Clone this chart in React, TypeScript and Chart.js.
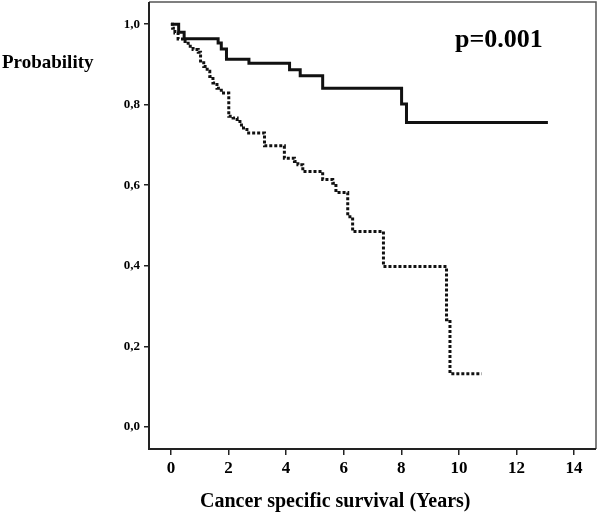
import React, { useEffect, useRef } from "react";
import { Chart, registerables } from "chart.js";

Chart.register(...registerables);

// Group A (solid line): event times (years) and survival probability after each step
const solidTimes = [0, 0.27, 0.46, 1.64, 1.75, 1.93, 2.71, 4.12, 4.49, 5.27, 8.01, 8.18, 13.09];
const solidSurv = [1.0, 0.98, 0.964, 0.953, 0.938, 0.913, 0.903, 0.887, 0.872, 0.841, 0.802, 0.756, 0.756];

// Group B (dotted line)
const dottedTimes = [
  0, 0.06, 0.14, 0.25, 0.43, 0.6, 0.77, 0.95, 1.03, 1.14, 1.26, 1.35, 1.46, 1.6, 1.75,
  2.01, 2.16, 2.3, 2.45, 2.64, 3.25, 3.94, 4.29, 4.41, 4.58, 5.27, 5.62, 5.73, 6.14,
  6.31, 7.38, 9.57, 9.69, 10.79,
];
const dottedSurv = [
  1.0, 0.99, 0.978, 0.963, 0.957, 0.945, 0.937, 0.93, 0.904, 0.895, 0.883, 0.87, 0.854, 0.841, 0.829,
  0.771, 0.767, 0.758, 0.742, 0.73, 0.698, 0.667, 0.659, 0.651, 0.634, 0.614, 0.605, 0.582, 0.522,
  0.485, 0.398, 0.266, 0.132, 0.132,
];

const xTicks = [0, 2, 4, 6, 8, 10, 12, 14];
const yTicks = [0, 0.2, 0.4, 0.6, 0.8, 1.0];

const yTitle = "Probability";
const xTitle = "Cancer specific survival (Years)";
const pValueText = "p=0.001";

const FONT = "'Liberation Serif', 'Times New Roman', serif";

export default function App() {
  const canvasRef = useRef<HTMLCanvasElement | null>(null);

  useEffect(() => {
    const canvas = canvasRef.current;
    if (!canvas) return;

    const framePlugin = {
      id: "frameAndTitles",
      afterDraw(chart: any) {
        const { ctx, chartArea } = chart;
        const { left, right, top, bottom } = chartArea;
        ctx.save();
        // thin top/right frame
        ctx.strokeStyle = "#555";
        ctx.lineWidth = 1.5;
        ctx.beginPath();
        ctx.moveTo(left, top);
        ctx.lineTo(right, top);
        ctx.lineTo(right, bottom);
        ctx.stroke();
        // heavier left/bottom axes
        ctx.strokeStyle = "#222";
        ctx.lineWidth = 2;
        ctx.beginPath();
        ctx.moveTo(left, top);
        ctx.lineTo(left, bottom);
        ctx.lineTo(right, bottom);
        ctx.stroke();

        ctx.fillStyle = "#000";
        ctx.textBaseline = "alphabetic";
        ctx.textAlign = "left";
        ctx.font = `bold 19px ${FONT}`;
        ctx.fillText(yTitle, 2, 68);
        ctx.font = `bold 26px ${FONT}`;
        ctx.fillText(pValueText, 455, 47);
        ctx.font = `bold 20px ${FONT}`;
        ctx.fillText(xTitle, 200, 507);
        ctx.restore();
      },
    };

    const chart = new Chart(canvas, {
      type: "line",
      data: {
        datasets: [
          {
            label: "Group A",
            data: solidTimes.map((t, i) => ({ x: t, y: solidSurv[i] })),
            borderColor: "#111",
            borderWidth: 3,
            stepped: "before",
            pointRadius: 0,
            fill: false,
          },
          {
            label: "Group B",
            data: dottedTimes.map((t, i) => ({ x: t, y: dottedSurv[i] })),
            borderColor: "#111",
            borderWidth: 3,
            borderDash: [3, 2],
            borderCapStyle: "butt",
            stepped: "before",
            pointRadius: 0,
            fill: false,
          },
        ],
      },
      options: {
        responsive: false,
        animation: false,
        devicePixelRatio: 1,
        layout: { padding: { top: 2, right: 4, left: 0, bottom: 0 } },
        plugins: {
          legend: { display: false },
          tooltip: { enabled: false },
          title: { display: false },
        },
        scales: {
          x: {
            type: "linear",
            min: -0.76,
            max: 14.76,
            border: { display: false },
            grid: {
              drawOnChartArea: false,
              drawTicks: true,
              tickLength: 6,
              color: "#222",
              lineWidth: 1.5,
            },
            ticks: {
              font: { family: FONT, size: 17, weight: "bold" },
              color: "#000",
              padding: 3,
              maxRotation: 0,
              autoSkip: false,
            },
            afterBuildTicks: (s: any) => {
              s.ticks = xTicks.map((v) => ({ value: v }));
            },
            afterFit: (s: any) => {
              s.height = 512 - 449;
              s.paddingLeft = 0;
              s.paddingRight = 0;
            },
          },
          y: {
            type: "linear",
            min: -0.055,
            max: 1.055,
            border: { display: false },
            grid: {
              drawOnChartArea: false,
              drawTicks: true,
              tickLength: 5,
              color: "#222",
              lineWidth: 1.5,
            },
            ticks: {
              font: { family: FONT, size: 13, weight: "bold" },
              color: "#000",
              padding: 4,
              autoSkip: false,
              callback: (v: any) => Number(v).toFixed(1).replace(".", ","),
            },
            afterBuildTicks: (s: any) => {
              s.ticks = yTicks.map((v) => ({ value: v }));
            },
            afterFit: (s: any) => {
              s.width = 149;
              s.paddingTop = 0;
              s.paddingBottom = 0;
            },
          },
        },
      },
      plugins: [framePlugin],
    } as any);

    return () => {
      chart.destroy();
    };
  }, []);

  return (
    <div style={{ position: "absolute", left: 0, top: 0, width: 600, height: 512, background: "#fff" }}>
      <canvas ref={canvasRef} width={600} height={512} style={{ display: "block", width: 600, height: 512 }} />
    </div>
  );
}
